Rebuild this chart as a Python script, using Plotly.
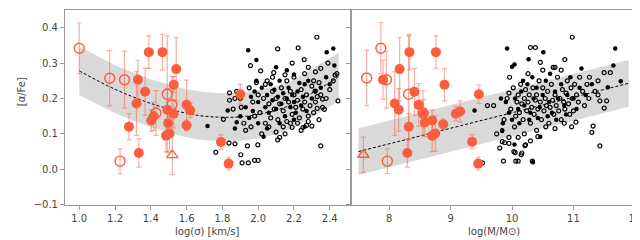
import plotly.graph_objects as go

# ---------------- data: left panel (log sigma) ----------------
fit_sig_x = [1.0, 1.2, 1.4, 1.6, 1.7, 1.8, 1.9, 2.0, 2.1, 2.2, 2.3, 2.4, 2.45]
fit_sig_y = [0.278, 0.226, 0.186, 0.158, 0.150, 0.147, 0.148, 0.155, 0.167, 0.185, 0.215, 0.245, 0.262]
band_sig_half = 0.068

blk_sig_fill_x = [1.717, 1.83, 1.88, 1.87, 1.944, 1.99, 1.99, 2.03, 2.10, 2.16, 2.2, 2.23, 2.26, 2.383, 2.42, 2.426,
                  1.96, 1.98, 2.0, 2.02, 2.04, 2.05, 2.06, 2.07, 2.08, 2.09, 2.1, 2.11, 2.12, 2.13, 2.14, 2.15, 2.16,
                  2.17, 2.18, 2.19, 2.2, 2.21, 2.22, 2.24, 2.25, 2.27, 2.28, 2.3, 2.32, 2.35, 2.38, 2.4, 1.93, 1.95,
                  1.9, 2.0, 2.05, 1.97, 2.12, 2.2, 2.26]
blk_sig_fill_y = [0.122, 0.166, 0.133, 0.115, 0.336, 0.309, 0.25, 0.092, 0.288, 0.28, 0.268, 0.244, 0.24, 0.331, 0.341, 0.293,
                  0.205, 0.22, 0.19, 0.23, 0.175, 0.21, 0.16, 0.24, 0.195, 0.225, 0.17, 0.205, 0.25, 0.185, 0.215, 0.15, 0.2,
                  0.23, 0.175, 0.21, 0.19, 0.16, 0.22, 0.18, 0.205, 0.165, 0.25, 0.2, 0.22, 0.23, 0.26, 0.24, 0.175, 0.145,
                  0.15, 0.13, 0.115, 0.165, 0.13, 0.14, 0.12]

blk_sig_open_x = [1.957, 2.014, 2.087, 1.99, 2.04, 1.84, 1.87, 1.84, 1.86, 1.806, 1.905, 1.93, 1.837, 1.87, 1.94, 1.998,
                  1.763, 1.903, 1.91, 1.945, 1.98, 2.0, 2.12, 2.328, 2.224, 2.109, 2.257, 2.19, 2.35, 2.28, 2.15, 2.43,
                  2.31, 2.318, 2.35, 2.36, 2.33, 2.37, 2.3, 2.27, 2.25, 2.24, 2.19, 2.14, 2.109, 2.35, 2.446,
                  1.95, 1.97, 1.98, 2.0, 2.01, 2.03, 2.04, 2.05, 2.06, 2.07, 2.08, 2.09, 2.1, 2.11, 2.12, 2.13, 2.14,
                  2.15, 2.16, 2.17, 2.18, 2.19, 2.2, 2.21, 2.22, 2.23, 2.24, 2.25, 2.26, 2.27, 2.28, 2.29, 2.3, 2.31,
                  2.32, 2.33, 2.34, 2.36, 2.38, 2.4, 2.42, 2.44, 2.02, 2.06, 2.1, 2.15, 2.18, 2.22, 2.28, 2.34, 1.92,
                  1.9, 1.88, 1.96, 2.08, 2.16, 2.2, 2.26, 2.32, 2.39]
blk_sig_open_y = [0.293, 0.278, 0.273, 0.245, 0.24, 0.216, 0.2, 0.195, 0.17, 0.141, 0.175, 0.11, 0.074, 0.072, 0.066, 0.069,
                  0.048, 0.041, 0.018, 0.018, 0.025, 0.025, 0.09, 0.373, 0.343, 0.34, 0.31, 0.3, 0.285, 0.288, 0.267, 0.266,
                  0.25, 0.221, 0.21, 0.198, 0.172, 0.169, 0.122, 0.124, 0.118, 0.11, 0.118, 0.12, 0.083, 0.066, 0.193,
                  0.23, 0.19, 0.15, 0.21, 0.16, 0.2, 0.13, 0.25, 0.185, 0.145, 0.22, 0.17, 0.2, 0.14, 0.185, 0.23, 0.165,
                  0.2, 0.135, 0.19, 0.22, 0.155, 0.21, 0.175, 0.195, 0.145, 0.225, 0.17, 0.19, 0.21, 0.15, 0.18, 0.235, 0.16,
                  0.19, 0.205, 0.245, 0.175, 0.2, 0.225, 0.25, 0.27, 0.1, 0.12, 0.105, 0.1, 0.13, 0.13, 0.135, 0.14, 0.13,
                  0.2, 0.22, 0.12, 0.26, 0.25, 0.26, 0.27, 0.275, 0.3]

red_sig_fill_x = [1.389, 1.465, 1.542, 1.328, 1.528, 1.368, 1.32, 1.278, 1.333, 1.402, 1.416, 1.493, 1.497, 1.485,
                  1.504, 1.528, 1.6, 1.62, 1.6, 1.9, 1.792, 1.835]
red_sig_fill_y = [0.331, 0.331, 0.283, 0.253, 0.239, 0.219, 0.186, 0.12, 0.046, 0.138, 0.15, 0.168, 0.13, 0.095,
                  0.101, 0.157, 0.182, 0.166, 0.124, 0.212, 0.077, 0.016]
red_sig_fill_e = [0.046, 0.05, 0.09, 0.055, 0.022, 0.066, 0.09, 0.037, 0.04, 0.03, 0.04, 0.06, 0.04, 0.045,
                  0.05, 0.04, 0.07, 0.02, 0.015, 0.028, 0.02, 0.018]
red_sig_open_x = [1.0, 1.17, 1.253, 1.228, 1.492, 1.518, 1.429]
red_sig_open_y = [0.342, 0.257, 0.253, 0.023, 0.212, 0.182, 0.159]
red_sig_open_e = [0.072, 0.078, 0.08, 0.035, 0.165, 0.08, 0.063]
red_sig_tri_x = [1.52]
red_sig_tri_y = [0.04]
red_sig_tri_e = [0.055]

# ---------------- data: right panel (log mass) ----------------
fit_m_x = [7.5, 11.9]
fit_m_y = [0.05, 0.243]
band_m_half = 0.066

blk_m_fill_x = [9.39, 9.82, 9.92, 10.0, 9.84, 9.85, 9.84, 10.04, 10.27, 10.51, 11.13, 11.65, 11.68, 11.77, 11.56,
                10.46, 10.34, 10.04, 10.05, 10.1, 10.15, 10.2, 10.25, 10.3, 10.35, 10.4, 10.45, 10.5, 10.55, 10.6,
                10.65, 10.7, 10.75, 10.8, 10.85, 10.9, 10.95, 11.0, 11.1, 11.2, 9.95, 9.9, 10.0, 10.12, 10.28, 10.42,
                10.58, 10.72, 10.88, 11.05, 11.3, 10.33, 10.62, 10.18]
blk_m_fill_y = [0.166, 0.2, 0.341, 0.29, 0.11, 0.13, 0.108, 0.296, 0.311, 0.331, 0.285, 0.293, 0.341, 0.249, 0.232,
                0.092, 0.02, 0.07, 0.2, 0.17, 0.22, 0.18, 0.24, 0.16, 0.2, 0.23, 0.175, 0.21, 0.25, 0.19,
                0.16, 0.22, 0.2, 0.24, 0.18, 0.21, 0.26, 0.2, 0.23, 0.21, 0.16, 0.19, 0.14, 0.13, 0.14, 0.145,
                0.15, 0.14, 0.155, 0.17, 0.24, 0.26, 0.27, 0.25]

blk_m_open_x = [9.6, 9.7, 9.95, 9.84, 9.86, 9.95, 9.88, 9.87, 9.52, 10.03, 10.06, 10.16, 10.22, 10.33, 10.42,
                10.98, 10.3, 10.38, 10.46, 10.67, 10.7, 10.86, 11.5, 11.6, 11.26, 11.4, 11.43, 11.54, 11.5, 11.32,
                11.3, 11.43, 11.04, 10.97, 10.21, 10.15, 10.1, 10.05,
                9.92, 9.98, 10.02, 10.06, 10.08, 10.1, 10.12, 10.14, 10.16, 10.18, 10.2, 10.22, 10.24, 10.26, 10.28,
                10.3, 10.32, 10.34, 10.36, 10.38, 10.4, 10.42, 10.44, 10.46, 10.48, 10.5, 10.52, 10.54, 10.56, 10.58,
                10.6, 10.62, 10.64, 10.66, 10.68, 10.7, 10.72, 10.74, 10.76, 10.78, 10.8, 10.82, 10.84, 10.86, 10.88,
                10.9, 10.92, 10.94, 10.96, 10.98, 11.0, 11.02, 11.05, 11.08, 11.1, 11.15, 11.18, 11.22, 11.25, 11.35,
                11.4, 9.96, 10.04, 10.2, 10.4, 10.55, 10.7, 10.85, 10.26, 10.5, 10.8, 9.75, 9.8, 9.95, 10.1, 10.3]
blk_m_open_y = [0.18, 0.18, 0.215, 0.078, 0.023, 0.073, 0.075, 0.14, 0.018, 0.05, 0.023, 0.046, 0.069, 0.023, 0.092,
                0.373, 0.344, 0.344, 0.302, 0.288, 0.288, 0.31, 0.273, 0.273, 0.26, 0.25, 0.193, 0.193, 0.173, 0.122,
                0.104, 0.066, 0.133, 0.12, 0.067, 0.041, 0.023, 0.047,
                0.2, 0.17, 0.23, 0.15, 0.19, 0.21, 0.16, 0.24, 0.185, 0.14, 0.2, 0.225, 0.165, 0.19, 0.21,
                0.13, 0.175, 0.23, 0.155, 0.195, 0.21, 0.17, 0.25, 0.19, 0.14, 0.23, 0.165, 0.2, 0.18, 0.22,
                0.13, 0.175, 0.24, 0.195, 0.155, 0.21, 0.18, 0.26, 0.165, 0.2, 0.14, 0.225, 0.19, 0.17, 0.215,
                0.25, 0.185, 0.155, 0.23, 0.2, 0.165, 0.24, 0.21, 0.19, 0.26, 0.22, 0.18, 0.24, 0.2, 0.22,
                0.21, 0.26, 0.12, 0.1, 0.11, 0.12, 0.115, 0.13, 0.27, 0.28, 0.28, 0.1, 0.06, 0.09, 0.09, 0.08]

red_m_fill_x = [7.90, 8.17, 8.33, 8.76, 8.90, 8.41, 9.46, 8.09, 8.155, 8.48, 8.56, 9.085, 9.155, 8.70, 8.58,
                8.88, 8.32, 8.295, 8.70, 8.75, 9.35, 9.45]
red_m_fill_y = [0.253, 0.283, 0.331, 0.331, 0.239, 0.219, 0.212, 0.186, 0.168, 0.182, 0.157, 0.157, 0.163, 0.138, 0.132,
                0.127, 0.12, 0.046, 0.095, 0.101, 0.078, 0.016]
red_m_fill_e = [0.055, 0.09, 0.05, 0.046, 0.046, 0.066, 0.026, 0.09, 0.06, 0.06, 0.04, 0.02, 0.03, 0.03, 0.04,
                0.015, 0.037, 0.04, 0.045, 0.05, 0.02, 0.018]
red_m_open_x = [7.634, 7.865, 7.956, 8.316, 7.97, 8.55]
red_m_open_y = [0.258, 0.342, 0.253, 0.212, 0.023, 0.159]
red_m_open_e = [0.078, 0.072, 0.08, 0.165, 0.035, 0.063]
red_m_tri_x = [7.58]
red_m_tri_y = [0.041]
red_m_tri_e = [0.05]

y_ticks = [-0.1, 0.0, 0.1, 0.2, 0.3, 0.4]
sig_ticks = [1.0, 1.2, 1.4, 1.6, 1.8, 2.0, 2.2, 2.4]
m_ticks = [8, 9, 10, 11, 12]

# ---------------- styling ----------------
RED = "#fb5d3f"
ERR = "rgba(251,93,63,0.5)"
BAND = "#d9d9d9"
AX = "#9a9a9a"
TXT = "#444444"
FONT = "DejaVu Sans, Verdana, sans-serif"

fig = go.Figure()


def add_panel(xa, ya, fx, fy, half, bfx, bfy, box, boy, rfx, rfy, rfe, rox, roy, roe, rtx, rty, rte):
    up = [v + half for v in fy]
    lo = [v - half for v in fy]
    fig.add_trace(go.Scatter(x=list(fx) + list(fx)[::-1], y=up + lo[::-1], fill="toself",
                             fillcolor=BAND, line=dict(width=0), mode="lines",
                             xaxis=xa, yaxis=ya, hoverinfo="skip"))
    fig.add_trace(go.Scatter(x=fx, y=fy, mode="lines", line=dict(color="black", width=1, dash="3px,2px"),
                             line_shape="spline", xaxis=xa, yaxis=ya))
    fig.add_trace(go.Scatter(x=box, y=boy, mode="markers",
                             marker=dict(symbol="circle-open", size=4, color="black", line=dict(width=1.2)),
                             xaxis=xa, yaxis=ya))
    fig.add_trace(go.Scatter(x=bfx, y=bfy, mode="markers",
                             marker=dict(symbol="circle", size=4.5, color="black"),
                             xaxis=xa, yaxis=ya))
    eb = dict(type="data", symmetric=True, color=ERR, thickness=1.2, width=2.5)
    fig.add_trace(go.Scatter(x=rox, y=roy, mode="markers",
                             error_y=dict(array=roe, **eb),
                             marker=dict(symbol="circle-open", size=10, color=RED, line=dict(width=1.4)),
                             xaxis=xa, yaxis=ya))
    fig.add_trace(go.Scatter(x=rtx, y=rty, mode="markers",
                             error_y=dict(array=rte, **eb),
                             marker=dict(symbol="triangle-up-open", size=10, color=RED, line=dict(width=1.4)),
                             xaxis=xa, yaxis=ya))
    fig.add_trace(go.Scatter(x=rfx, y=rfy, mode="markers",
                             error_y=dict(array=rfe, **eb),
                             marker=dict(symbol="circle", size=10, color=RED),
                             xaxis=xa, yaxis=ya))


add_panel("x", "y", fit_sig_x, fit_sig_y, band_sig_half, blk_sig_fill_x, blk_sig_fill_y,
          blk_sig_open_x, blk_sig_open_y, red_sig_fill_x, red_sig_fill_y, red_sig_fill_e,
          red_sig_open_x, red_sig_open_y, red_sig_open_e, red_sig_tri_x, red_sig_tri_y, red_sig_tri_e)
add_panel("x2", "y2", fit_m_x, fit_m_y, band_m_half, blk_m_fill_x, blk_m_fill_y,
          blk_m_open_x, blk_m_open_y, red_m_fill_x, red_m_fill_y, red_m_fill_e,
          red_m_open_x, red_m_open_y, red_m_open_e, red_m_tri_x, red_m_tri_y, red_m_tri_e)

W, H = 640, 240
xl0, xmid, xr1 = 57.3, 345.0, 633.3
ytop, ybot = 1.7, 201.7

axis_common = dict(showgrid=False, zeroline=False, showline=True, linecolor=AX, linewidth=1,
                   mirror=True, ticks="outside", ticklen=4, tickcolor=AX,
                   tickfont=dict(family=FONT, size=10, color=TXT))

fig.update_layout(
    width=W, height=H, margin=dict(l=0, r=0, t=0, b=0),
    paper_bgcolor="white", plot_bgcolor="white", showlegend=False,
    font=dict(family=FONT, size=10, color=TXT),
    xaxis=dict(domain=[xl0 / W, xmid / W], range=[0.92, 2.518], tickvals=sig_ticks,
               tickformat=".1f", anchor="y", **axis_common),
    yaxis=dict(domain=[1 - ybot / H, 1 - ytop / H], range=[-0.1, 0.451], tickvals=y_ticks,
               tickformat=".1f", anchor="x", **axis_common),
    xaxis2=dict(domain=[xmid / W, xr1 / W], range=[7.376, 12.04], tickvals=m_ticks,
                anchor="y2", **axis_common),
    yaxis2=dict(domain=[1 - ybot / H, 1 - ytop / H], range=[-0.1, 0.451], tickvals=y_ticks,
                showticklabels=False, anchor="x2", matches="y", **axis_common),
    annotations=[
        dict(text="[α/Fe]", x=13.5 / W, y=1 - 86 / H, xref="paper", yref="paper", textangle=-90,
             showarrow=False, font=dict(family=FONT, size=10, color=TXT), xanchor="center", yanchor="middle"),
        dict(text="log(σ) [km/s]", x=(xl0 + xmid) / 2 / W, y=1 - 229 / H, xref="paper", yref="paper",
             showarrow=False, font=dict(family=FONT, size=10, color=TXT), xanchor="center", yanchor="middle"),
        dict(text="log(M/M⊙)", x=(xmid + xr1) / 2 / W, y=1 - 229 / H, xref="paper", yref="paper",
             showarrow=False, font=dict(family=FONT, size=10, color=TXT), xanchor="center", yanchor="middle"),
    ],
)

fig.write_html("out.html")
